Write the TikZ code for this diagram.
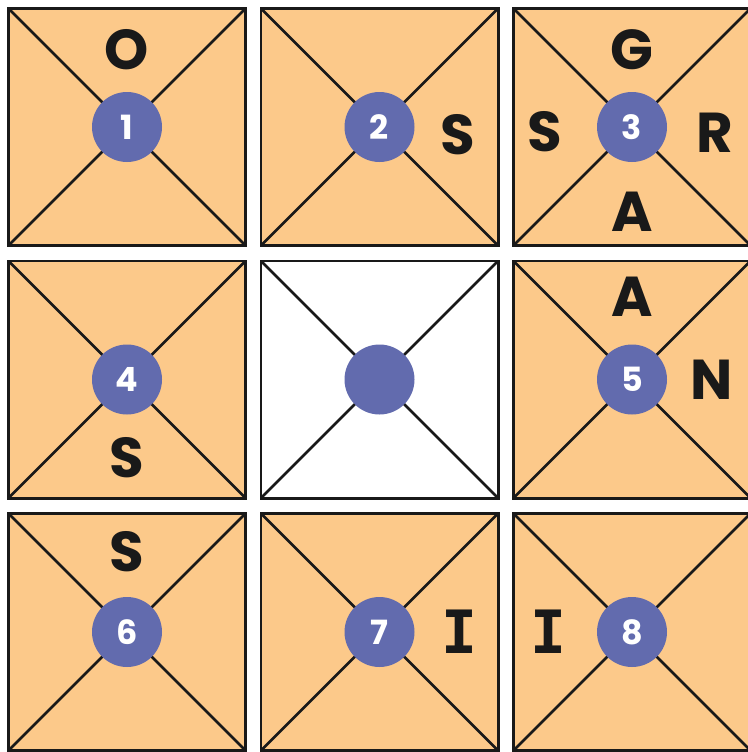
\documentclass[tikz,border=0pt]{standalone}
\usepackage{fontspec}
\setmainfont{Poppins}
\newfontfamily\barfont{DejaVu Sans Mono}
\usetikzlibrary{positioning}
\usepackage{xcolor}
\definecolor{TileOrange}{HTML}{FCC98A}
\definecolor{DotBlue}{HTML}{626BAE}

\begin{document}
\begin{tikzpicture}[
        node distance=0.31cm and 0.31cm,
        tile/.style={rectangle, draw=black!90, fill=TileOrange, line width=1.7pt, minimum size=4.74cm, inner sep=0pt, outer sep=0pt,
            path picture={\draw[line width=1.5pt, black!90] (path picture bounding box.north west) -- (path picture bounding box.south east)
                (path picture bounding box.north east) -- (path picture bounding box.south west);}},
        dot/.style={circle, fill=DotBlue, minimum size=1.4cm, inner sep=0pt, text=white, font=\fontsize{19}{19}\selectfont\bfseries},
        letter/.style={inner sep=0pt, text=black!90, font=\fontsize{32}{32}\selectfont\bfseries},
        barletter/.style={letter, font=\fontsize{34}{34}\selectfont\barfont\bfseries}
    ]
        \useasboundingbox (0,0) rectangle (14.96,-15.04);

        % Tiles
        \node (s1) [tile] at (2.54,-2.54) {};
        \node (s2) [tile, right=of s1] {};
        \node (s3) [tile, right=of s2] {};
        \node (s4) [tile, below=of s1] {};
        \node (s5) [tile, fill=white, right=of s4] {};
        \node (s6) [tile, right=of s5] {};
        \node (s7) [tile, below=of s4] {};
        \node (s8) [tile, right=of s7] {};
        \node (s9) [tile, right=of s8] {};

        % Dots
        \node (d1) [dot] at (s1.center) {1};
        \node (d2) [dot] at (s2.center) {2};
        \node (d3) [dot] at (s3.center) {3};
        \node (d4) [dot] at (s4.center) {4};
        \node (dmid) [dot] at (s5.center) {};
        \node (d5) [dot] at (s6.center) {5};
        \node (d6) [dot] at (s7.center) {6};
        \node (d7) [dot] at (s8.center) {7};
        \node (d8) [dot] at (s9.center) {8};

        % Letters
        \node (o1) [letter] at ([yshift=1.54cm]d1.center) {O};
        \node (s2r) [letter] at ([xshift=1.56cm, yshift=-0.16cm]d2.center) {S};
        \node (g3) [letter] at ([yshift=1.54cm]d3.center) {G};
        \node (s3l) [letter] at ([xshift=-1.74cm, yshift=-0.1cm]d3.center) {S};
        \node (r3) [letter] at ([xshift=1.66cm, yshift=-0.12cm]d3.center) {R};
        \node (a3) [letter] at ([yshift=-1.7cm]d3.center) {A};
        \node (s4b) [letter] at ([yshift=-1.56cm]d4.center) {S};
        \node (a5) [letter] at ([yshift=1.66cm]d5.center) {A};
        \node (n5) [letter] at ([xshift=1.6cm]d5.center) {N};
        \node (s6t) [letter] at ([yshift=1.6cm]d6.center) {S};
        \node (i7) [barletter] at ([xshift=1.6cm]d7.center) {I};
        \node (i8) [barletter] at ([xshift=-1.68cm]d8.center) {I};
    \end{tikzpicture}
\end{document}
